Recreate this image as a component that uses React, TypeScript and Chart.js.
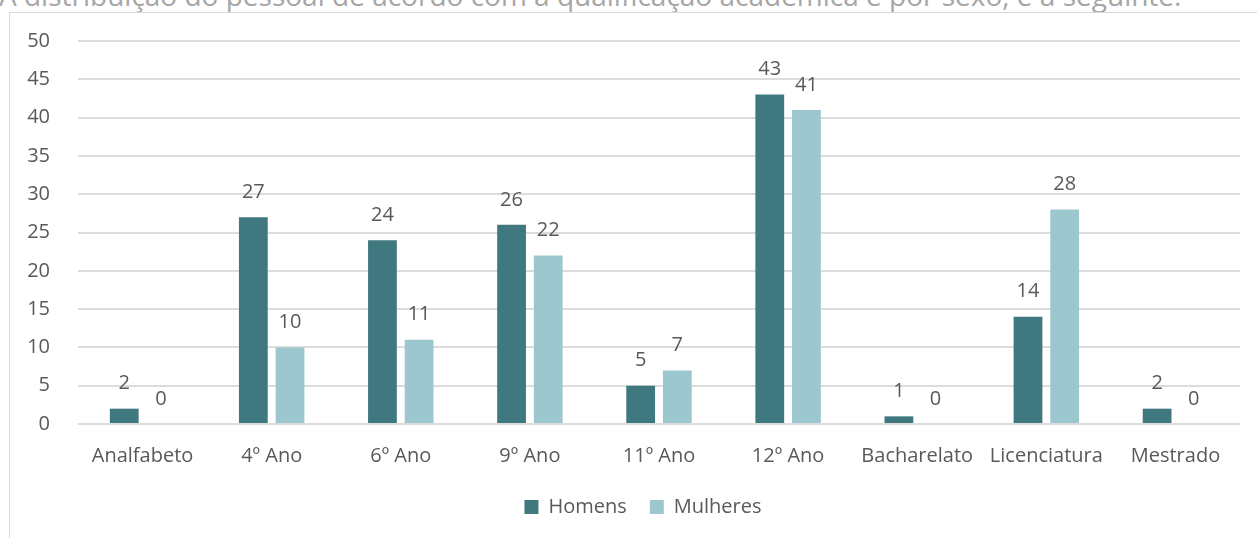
import React, { useEffect, useRef } from "react";
import { Chart, registerables } from "chart.js";

Chart.register(...registerables);

const categories = [
  "Analfabeto",
  "4º Ano",
  "6º Ano",
  "9º Ano",
  "11º Ano",
  "12º Ano",
  "Bacharelato",
  "Licenciatura",
  "Mestrado",
];
const homens = [2, 27, 24, 26, 5, 43, 1, 14, 2];
const mulheres = [0, 10, 11, 22, 7, 41, 0, 28, 0];
const seriesNames = ["Homens", "Mulheres"];
const yMax = 50;
const yStep = 5;
const titleText =
  "A distribuição do pessoal de acordo com a qualificação académica e por sexo, é a seguinte:";

const FONT = "'Open Sans', 'Noto Sans', sans-serif";
const TEXT = "#595959";

const valueLabels = {
  id: "valueLabels",
  afterDatasetsDraw(chart: any) {
    const ctx = chart.ctx;
    ctx.save();
    ctx.font = `20px ${FONT}`;
    ctx.fillStyle = TEXT;
    ctx.textAlign = "center";
    ctx.textBaseline = "middle";
    chart.data.datasets.forEach((ds: any, di: number) => {
      const meta = chart.getDatasetMeta(di);
      meta.data.forEach((el: any, i: number) => {
        ctx.fillText(String(ds.data[i]), el.x, el.y - 25);
      });
    });
    ctx.restore();
  },
};

export default function App() {
  const ref = useRef<HTMLCanvasElement | null>(null);
  useEffect(() => {
    if (!ref.current) return;
    const chart = new Chart(ref.current, {
      type: "bar",
      data: {
        labels: categories,
        datasets: [
          {
            label: seriesNames[0],
            data: homens,
            backgroundColor: "#407880",
            categoryPercentage: 0.568,
            barPercentage: 0.785,
          },
          {
            label: seriesNames[1],
            data: mulheres,
            backgroundColor: "#9DC7CE",
            categoryPercentage: 0.568,
            barPercentage: 0.785,
          },
        ],
      },
      options: {
        animation: false,
        responsive: true,
        maintainAspectRatio: false,
        layout: { padding: { top: 28, right: 17, bottom: 11, left: 0 } },
        plugins: {
          legend: {
            position: "bottom",
            labels: {
              boxWidth: 14,
              boxHeight: 14,
              padding: 23,
              color: TEXT,
              font: { family: FONT, size: 20 },
            },
          },
          tooltip: { enabled: false },
        },
        scales: {
          x: {
            grid: { display: false, drawTicks: false },
            border: { display: false },
            ticks: {
              color: TEXT,
              padding: 20,
              maxRotation: 0,
              autoSkip: false,
              font: { family: FONT, size: 20 },
            },
            afterFit(scale: any) {
              scale.height = 50;
              scale.paddingLeft = 0;
              scale.paddingRight = 0;
            },
          },
          y: {
            min: 0,
            max: yMax,
            ticks: {
              stepSize: yStep,
              color: TEXT,
              padding: 28,
              font: { family: FONT, size: 20 },
            },
            grid: { color: "#dcdcdc", lineWidth: 2, drawTicks: false },
            border: { display: false },
            afterFit(scale: any) {
              scale.width = 68;
              scale.paddingTop = 0;
              scale.paddingBottom = 0;
            },
          },
          spacer: {
            type: "linear",
            position: "right",
            min: 0,
            max: 1,
            ticks: { display: false },
            grid: { display: false, drawTicks: false },
            border: { display: false },
            afterFit(scale: any) {
              scale.width = 36;
              scale.paddingTop = 0;
              scale.paddingBottom = 0;
            },
          },
        },
      },
      plugins: [valueLabels],
    });
    return () => chart.destroy();
  }, []);

  return (
    <div
      style={{
        position: "absolute",
        left: 0,
        top: 0,
        width: 1257,
        height: 538,
        overflow: "hidden",
        background: "#fff",
      }}
    >
      <div
        style={{
          position: "absolute",
          left: -1,
          top: -24,
          whiteSpace: "nowrap",
          fontFamily: FONT,
          fontSize: 28,
          lineHeight: "normal",
          color: "#a6a6a6",
        }}
      >
        {titleText}
      </div>
      <div
        style={{
          position: "absolute",
          left: 9,
          top: 12,
          width: 1260,
          height: 540,
          borderLeft: "1px solid #d9d9d9",
          borderTop: "1px solid #d9d9d9",
        }}
      />
      <div
        style={{
          position: "absolute",
          left: 10,
          top: 13,
          width: 1283,
          height: 525,
        }}
      >
        <canvas ref={ref} />
      </div>
    </div>
  );
}
